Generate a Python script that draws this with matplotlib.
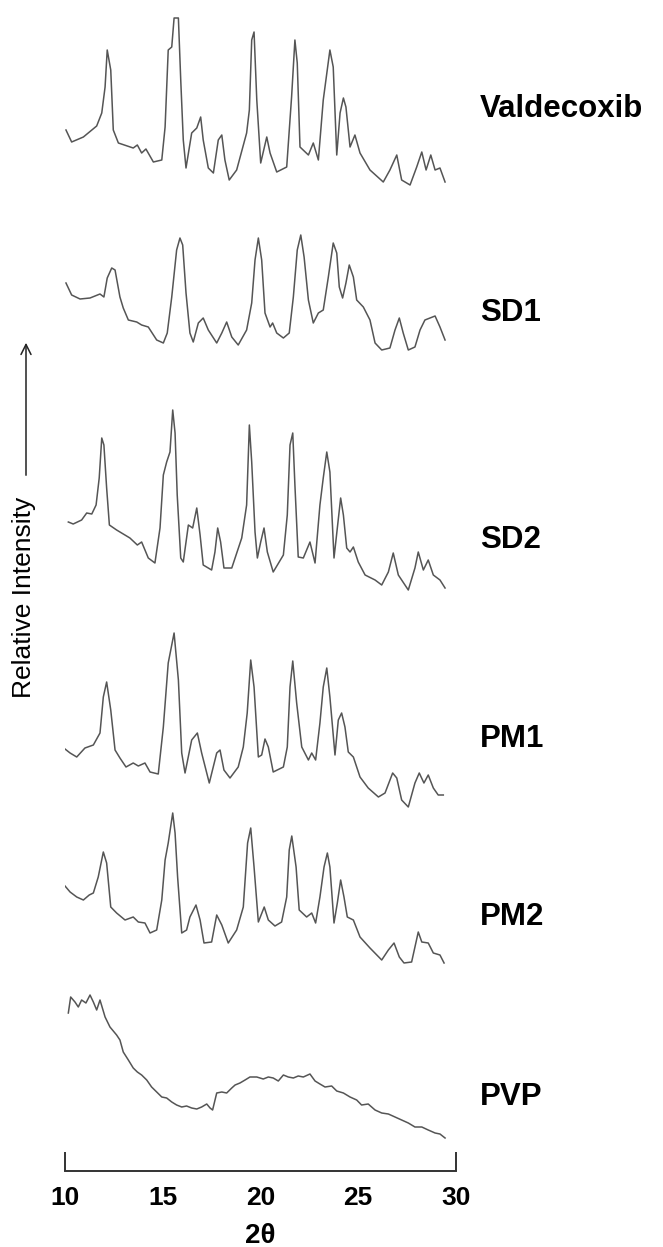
import matplotlib
matplotlib.use("Agg")
import matplotlib.pyplot as plt

plt.rcParams['font.family'] = ['Liberation Sans', 'DejaVu Sans']

# XRD patterns: 2theta (deg) and relative intensity (arb.)
names = ['Valdecoxib', 'SD1', 'SD2', 'PM1', 'PM2', 'PVP']
offsets = [981, 821, 576, 361, 201, 26]

val_tt = [10.05, 10.34, 10.94, 11.62, 11.88, 12.05, 12.16, 12.34, 12.47, 12.73, 13.49, 13.70,
          13.92, 14.14, 14.52, 14.95, 15.12, 15.28, 15.46, 15.58, 15.80, 15.92, 16.05, 16.19,
          16.48, 16.74, 16.94, 17.07, 17.33, 17.59, 17.84, 18.02, 18.18, 18.40, 18.78, 19.29,
          19.43, 19.55, 19.67, 19.81, 20.01, 20.32, 20.49, 20.83, 21.34, 21.59, 21.76, 21.88,
          22.02, 22.45, 22.70, 22.96, 23.21, 23.55, 23.72, 23.90, 24.07, 24.24, 24.37, 24.58,
          24.83, 25.09, 25.60, 26.28, 26.62, 26.97, 27.22, 27.65, 27.99, 28.25, 28.47, 28.71,
          28.93, 29.18, 29.44]
val_int = [60, 48, 53, 64, 77, 103, 140, 120, 60, 47, 42, 45,
           37, 41, 28, 30, 63, 140, 143, 172, 172, 110, 50, 22,
           57, 62, 73, 50, 22, 17, 50, 55, 30, 10, 20, 57,
           80, 150, 158, 90, 27, 53, 37, 18, 23, 93, 150, 127,
           43, 35, 47, 30, 90, 140, 123, 35, 77, 92, 83, 43,
           55, 37, 20, 8, 20, 35, 10, 5, 23, 38, 20, 35,
           20, 22, 8]

sd1_tt = [10.05, 10.34, 10.77, 11.28, 11.79, 11.99, 12.16, 12.39, 12.56, 12.81, 12.98, 13.24,
          13.67, 13.92, 14.26, 14.69, 15.03, 15.23, 15.46, 15.71, 15.88, 16.02, 16.19, 16.39,
          16.56, 16.82, 17.07, 17.33, 17.76, 18.02, 18.27, 18.53, 18.86, 19.29, 19.55, 19.72,
          19.89, 20.06, 20.23, 20.49, 20.62, 20.83, 21.17, 21.47, 21.68, 21.88, 22.06, 22.23,
          22.45, 22.70, 22.96, 23.21, 23.47, 23.72, 23.90, 24.03, 24.20, 24.37, 24.54, 24.75,
          24.92, 25.26, 25.60, 25.86, 26.20, 26.62, 26.88, 27.10, 27.30, 27.56, 27.90, 28.16,
          28.41, 28.93, 29.18, 29.44]
sd1_int = [67, 55, 51, 52, 56, 53, 72, 82, 80, 53, 42, 30,
           28, 25, 23, 10, 7, 17, 53, 100, 112, 105, 57, 17,
           8, 27, 32, 20, 7, 17, 28, 13, 5, 20, 47, 90,
           112, 90, 37, 23, 27, 17, 12, 17, 53, 100, 115, 93,
           50, 27, 37, 40, 73, 107, 97, 63, 52, 67, 85, 73,
           50, 43, 30, 7, 0, 2, 20, 32, 17, 0, 3, 20,
           30, 34, 23, 10]

sd2_tt = [10.17, 10.42, 10.85, 11.11, 11.37, 11.59, 11.75, 11.88, 11.99, 12.13, 12.27, 12.64,
          13.32, 13.70, 13.92, 14.26, 14.60, 14.86, 15.03, 15.20, 15.37, 15.51, 15.63, 15.74,
          15.92, 16.05, 16.31, 16.53, 16.74, 16.91, 17.07, 17.50, 17.67, 17.81, 17.96, 18.13,
          18.53, 19.04, 19.29, 19.43, 19.55, 19.72, 19.84, 20.01, 20.18, 20.35, 20.65, 21.17,
          21.37, 21.51, 21.65, 21.76, 21.93, 22.19, 22.53, 22.79, 23.04, 23.21, 23.39, 23.55,
          23.76, 23.93, 24.10, 24.24, 24.41, 24.58, 24.75, 25.00, 25.35, 25.86, 26.20, 26.54,
          26.79, 27.05, 27.56, 27.90, 28.07, 28.33, 28.58, 28.84, 29.18, 29.44]
sd2_int = [73, 71, 75, 82, 81, 90, 117, 157, 150, 107, 70, 65,
           57, 50, 53, 37, 32, 67, 120, 133, 143, 185, 162, 100,
           37, 33, 70, 67, 87, 60, 30, 25, 43, 67, 53, 27,
           27, 57, 90, 170, 133, 63, 37, 53, 67, 43, 23, 40,
           80, 150, 162, 110, 38, 37, 53, 32, 90, 117, 143, 123,
           37, 67, 97, 80, 47, 43, 48, 33, 20, 15, 10, 23,
           42, 20, 5, 27, 43, 25, 35, 20, 15, 7]

pm1_tt = [10.00, 10.26, 10.60, 11.02, 11.45, 11.79, 11.96, 12.13, 12.34, 12.56, 12.81, 13.12,
          13.49, 13.75, 14.09, 14.35, 14.77, 15.03, 15.28, 15.58, 15.80, 15.97, 16.14, 16.48,
          16.77, 16.99, 17.38, 17.76, 17.93, 18.13, 18.44, 18.86, 19.12, 19.32, 19.50, 19.67,
          19.89, 20.06, 20.23, 20.40, 20.65, 21.17, 21.37, 21.51, 21.65, 21.85, 22.11, 22.45,
          22.62, 22.82, 23.04, 23.21, 23.39, 23.55, 23.81, 23.98, 24.15, 24.32, 24.49, 24.75,
          25.09, 25.51, 26.03, 26.37, 26.76, 26.97, 27.22, 27.56, 27.90, 28.12, 28.36, 28.58,
          28.84, 29.09, 29.35]
pm1_int = [61, 57, 53, 62, 65, 77, 113, 128, 100, 60, 52, 43,
           47, 44, 47, 38, 36, 83, 147, 177, 130, 57, 37, 70,
           77, 57, 27, 57, 60, 40, 32, 43, 63, 97, 150, 123,
           53, 55, 71, 63, 38, 43, 63, 123, 149, 107, 63, 50,
           57, 50, 87, 123, 142, 113, 55, 90, 97, 83, 58, 53,
           33, 22, 13, 17, 37, 32, 10, 3, 27, 37, 27, 35,
           22, 15, 15]

pm2_tt = [10.00, 10.26, 10.60, 10.94, 11.24, 11.45, 11.70, 11.96, 12.13, 12.34, 12.64, 13.07,
          13.49, 13.75, 14.09, 14.35, 14.69, 14.95, 15.12, 15.28, 15.51, 15.63, 15.76, 15.97,
          16.22, 16.39, 16.70, 16.91, 17.11, 17.50, 17.76, 18.02, 18.35, 18.78, 19.12, 19.34,
          19.50, 19.67, 19.89, 20.19, 20.40, 20.74, 21.08, 21.34, 21.47, 21.60, 21.82, 21.98,
          22.36, 22.62, 22.82, 23.04, 23.25, 23.42, 23.55, 23.76, 23.93, 24.10, 24.27, 24.44,
          24.75, 25.09, 25.60, 26.20, 26.54, 26.83, 27.10, 27.34, 27.73, 28.07, 28.25, 28.58,
          28.84, 29.18, 29.39]
pm2_int = [84, 78, 73, 70, 75, 77, 93, 118, 107, 63, 57, 50,
           53, 48, 47, 37, 40, 70, 110, 127, 157, 137, 93, 37,
           40, 53, 65, 50, 27, 28, 55, 45, 27, 40, 63, 127,
           142, 103, 48, 63, 50, 44, 48, 73, 120, 134, 103, 60,
           53, 57, 47, 73, 103, 117, 103, 47, 67, 90, 73, 53,
           50, 33, 22, 10, 20, 27, 13, 7, 8, 38, 28, 27,
           17, 15, 7]

pvp_tt = [10.17, 10.29, 10.51, 10.68, 10.85, 11.07, 11.28, 11.45, 11.62, 11.79, 12.05, 12.30,
          12.64, 12.81, 12.98, 13.24, 13.49, 13.70, 13.92, 14.18, 14.43, 14.69, 14.95, 15.20,
          15.46, 15.71, 15.97, 16.22, 16.48, 16.74, 16.99, 17.25, 17.42, 17.55, 17.76, 18.02,
          18.27, 18.53, 18.70, 18.95, 19.21, 19.46, 19.81, 20.14, 20.40, 20.65, 20.91, 21.17,
          21.42, 21.68, 21.93, 22.19, 22.53, 22.79, 23.04, 23.30, 23.64, 23.90, 24.24, 24.58,
          24.92, 25.17, 25.51, 25.86, 26.20, 26.54, 26.88, 27.22, 27.56, 27.90, 28.25, 28.58,
          28.93, 29.18, 29.44]
pvp_int = [132, 148, 143, 138, 145, 142, 150, 143, 135, 145, 128, 118,
           110, 105, 93, 85, 77, 73, 70, 65, 58, 53, 48, 47,
           43, 40, 38, 39, 37, 36, 38, 41, 37, 35, 52, 53,
           52, 57, 60, 62, 65, 68, 68, 66, 68, 67, 64, 70,
           68, 67, 69, 68, 71, 64, 61, 58, 59, 54, 52, 48,
           45, 40, 41, 35, 32, 31, 28, 25, 22, 18, 18, 15,
           12, 11, 7]

patterns = [(val_tt, val_int), (sd1_tt, sd1_int), (sd2_tt, sd2_int),
            (pm1_tt, pm1_int), (pm2_tt, pm2_int), (pvp_tt, pvp_int)]
label_base_px = [117, 321, 548, 747, 925, 1105]   # text baselines, px from top

W, H = 663, 1247
fig = plt.figure(figsize=(W / 100, H / 100), dpi=100)
ax = fig.add_axes([65 / W, (H - 1171) / H, (456 - 65) / W, 1171 / H])

for (tt, inten), off in zip(patterns, offsets):
    ax.plot(tt, [v + off for v in inten], color='#555555', lw=1.1)

ax.set_xlim(10, 30)
ax.set_ylim(0, 1171)

for s in ['top', 'left', 'right']:
    ax.spines[s].set_visible(False)
ax.spines['bottom'].set_color('#333333')
ax.spines['bottom'].set_linewidth(1.4)
ax.set_yticks([])

ax.xaxis.remove_overlapping_locs = False
ax.set_xticks([10, 15, 20, 25, 30])
ax.set_xticklabels(['10', '15', '20', '25', '30'], fontsize=19, fontweight='bold')
ax.tick_params(axis='x', which='major', length=0, pad=11)
ax.set_xticks([10, 30], minor=True)
ax.tick_params(axis='x', which='minor', direction='in', length=14, width=1.4, color='#333333')
ax.set_xlabel('2θ', fontsize=20, fontweight='bold', labelpad=9)

for name, yb in zip(names, label_base_px):
    fig.text(480 / W, 1 - yb / H, name, fontsize=22.5, fontweight='bold',
             ha='left', va='baseline')

# y-axis label with arrow
fig.text(24 / W, 1 - 597 / H, 'Relative Intensity', rotation=90, fontsize=19,
         ha='center', va='center')
fig.add_artist(matplotlib.patches.FancyArrowPatch(
    (26 / W, 1 - 478 / H), (26 / W, 1 - 340 / H), transform=fig.transFigure,
    arrowstyle='->', mutation_scale=18, lw=1.1, color='#222222'))

fig.savefig('out.png', dpi=100)
